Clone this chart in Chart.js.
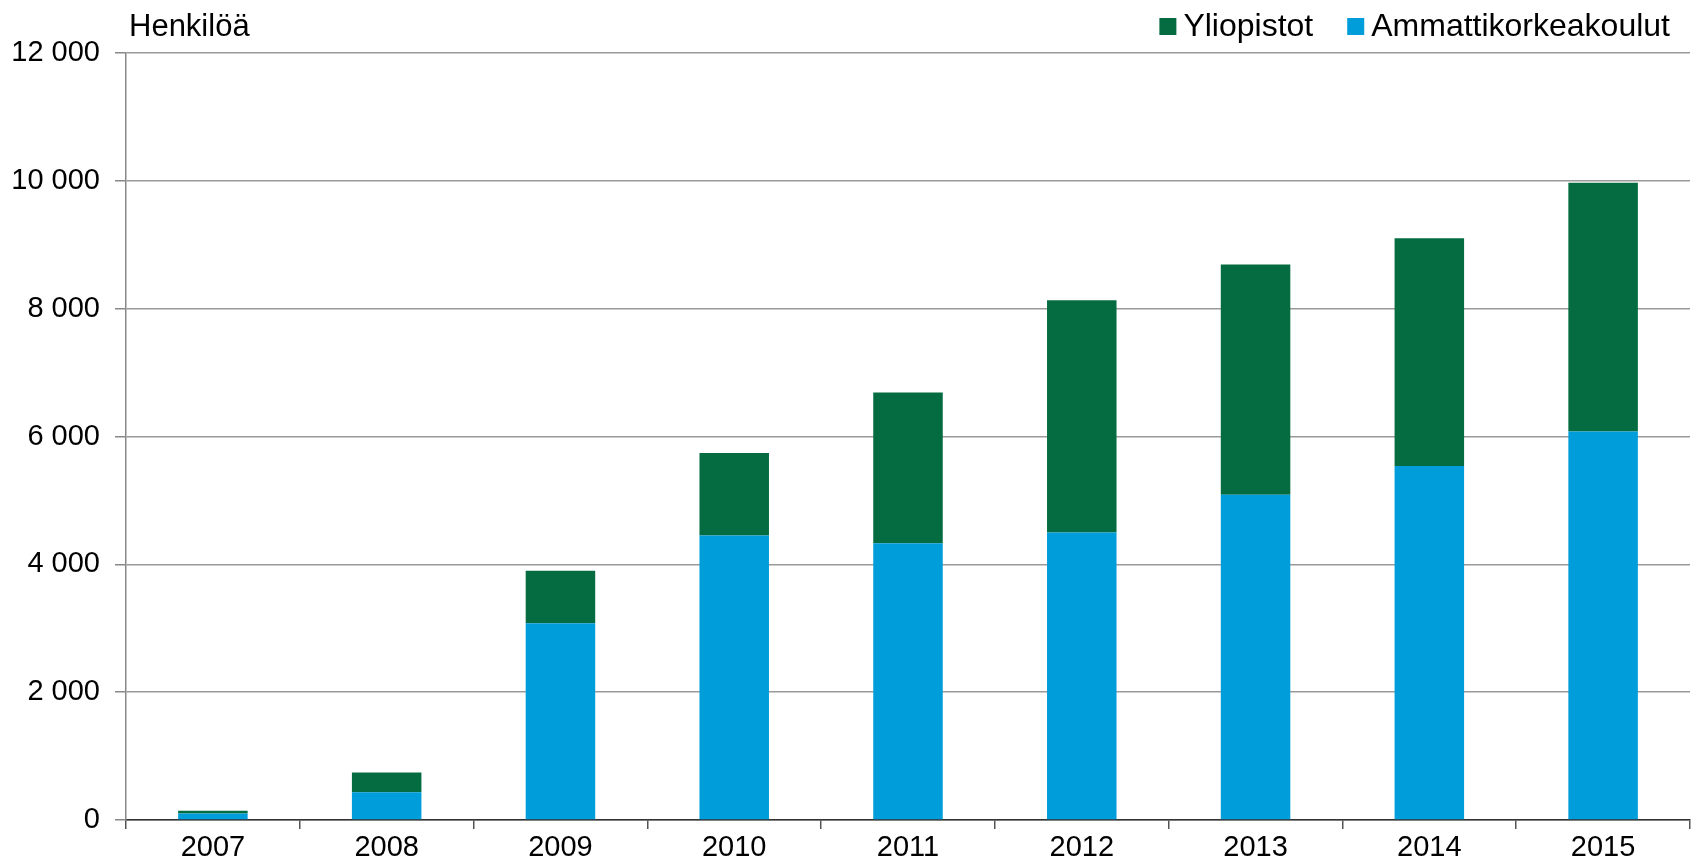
<!DOCTYPE html>
<html>
<head>
<meta charset="utf-8">
<script src="https://cdn.jsdelivr.net/npm/chart.js@4.4.1/dist/chart.umd.min.js"></script>
<style>
  html, body { margin: 0; padding: 0; background: #fff; }
  #wrap { width: 1699px; height: 862px; }
</style>
</head>
<body>
<div id="wrap"><canvas id="chart" width="1699" height="862"></canvas></div>
<script>
const years = ['2007', '2008', '2009', '2010', '2011', '2012', '2013', '2014', '2015'];
const ammattikorkeakoulut = [100, 435, 3080, 4450, 4330, 4500, 5090, 5540, 6080];
const yliopistot = [45, 310, 820, 1290, 2360, 3630, 3600, 3560, 3890];
const yTickValues = [0, 2000, 4000, 6000, 8000, 10000, 12000];
const yTitle = 'Henkilöä';

const FONT = '"Liberation Sans", Arial, sans-serif';

function formatThousands(v) {
    return String(v).replace(/\B(?=(\d{3})+(?!\d))/g, ' ');
}

// otsikko ja selite piirretään itse, jotta ne osuvat samaan kohtaan kuin mallissa
const titleLegendPlugin = {
    id: 'titleLegend',
    afterDraw(chart) {
        const ctx = chart.ctx;
        ctx.save();
        ctx.textAlign = 'left';
        ctx.textBaseline = 'alphabetic';
        ctx.fillStyle = '#000';
        ctx.font = '31px ' + FONT;
        ctx.fillText(yTitle, 129, 36);

        ctx.font = '32px ' + FONT;
        let x = 1670;
        chart.data.datasets.forEach(ds => {
            const w = ctx.measureText(ds.label).width;
            x -= w;
            ctx.fillStyle = '#000';
            ctx.fillText(ds.label, x, 36);
            x -= 7 + 17;
            ctx.fillStyle = ds.backgroundColor;
            ctx.fillRect(x, 18, 17, 17);
            x -= 34;
        });
        ctx.restore();
    }
};

const ctx = document.getElementById('chart').getContext('2d');
new Chart(ctx, {
    type: 'bar',
    data: {
        labels: years,
        datasets: [
            {
                label: 'Ammattikorkeakoulut',
                data: ammattikorkeakoulut,
                backgroundColor: '#009ddb',
                barPercentage: 0.4,
                categoryPercentage: 1.0
            },
            {
                label: 'Yliopistot',
                data: yliopistot,
                backgroundColor: '#046c40',
                barPercentage: 0.4,
                categoryPercentage: 1.0
            }
        ]
    },
    options: {
        responsive: false,
        animation: false,
        devicePixelRatio: 1,
        layout: { padding: { top: 53, right: 9, bottom: 0, left: 0 } },
        plugins: {
            legend: { display: false },
            tooltip: { enabled: false }
        },
        scales: {
            x: {
                stacked: true,
                grid: {
                    drawOnChartArea: false,
                    tickLength: 9,
                    color: '#555',
                    lineWidth: 1.5
                },
                border: { color: '#333', width: 1.5 },
                ticks: {
                    color: '#000',
                    font: { family: FONT, size: 29 },
                    padding: 2,
                    maxRotation: 0
                },
                afterFit: s => { s.height = 42; }
            },
            y: {
                stacked: true,
                min: 0,
                max: 12000,
                afterBuildTicks: s => { s.ticks = yTickValues.map(v => ({ value: v })); },
                grid: {
                    color: '#9a9a9a',
                    lineWidth: 1.5,
                    tickLength: 11,
                    tickColor: '#888'
                },
                border: { color: '#888', width: 1.5 },
                ticks: {
                    color: '#000',
                    font: { family: FONT, size: 29 },
                    padding: 15,
                    callback: v => formatThousands(v)
                },
                afterFit: s => { s.width = 126; }
            }
        }
    },
    plugins: [titleLegendPlugin]
});
</script>
</body>
</html>
